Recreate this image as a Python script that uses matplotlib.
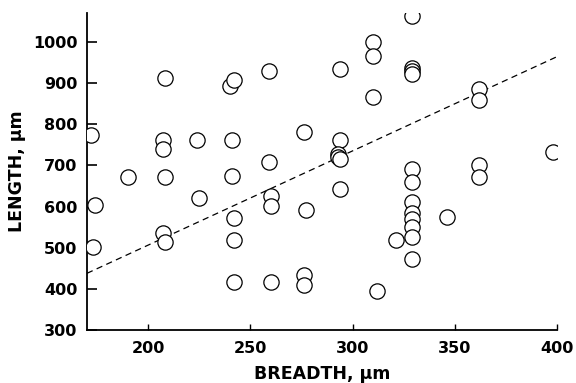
import numpy as np
import matplotlib.pyplot as plt

plt.rcParams['font.family'] = ['DejaVu Sans']

# breadth (um) and length (um)
breadth = [172, 174, 173, 190, 208, 207, 207, 208, 207, 208,
           224, 225, 240, 242, 241, 241, 242, 242, 242,
           259, 259, 260, 260, 260, 276, 277, 276, 276,
           294, 294, 293, 293, 294, 294, 310, 310, 310, 312, 321,
           329, 329, 329, 329, 329, 329, 329, 329, 329, 329, 329, 329,
           346, 362, 362, 362, 362, 398]
length = [775, 605, 502, 672, 912, 762, 740, 672, 537, 513,
          762, 622, 893, 908, 762, 675, 573, 520, 418,
          930, 708, 625, 602, 417, 780, 591, 435, 410,
          935, 762, 728, 720, 715, 642, 1000, 965, 866, 395, 520,
          1062, 937, 930, 922, 692, 660, 610, 585, 570, 550, 525, 472,
          574, 885, 858, 700, 673, 732]

# regression line end points
fit_x = [170, 400]
fit_y = [438, 964]

fig = plt.figure(figsize=(5.76, 3.83), dpi=100)
ax = fig.add_axes([0.151, 0.138, 0.816, 0.828])

ax.plot(breadth, length, 'o', mfc='white', mec='black', ms=11, mew=0.9, zorder=3)
ax.plot(fit_x, fit_y, '--', color='black', lw=0.9, dashes=(5, 3.5), zorder=2)

ax.set_xlim(170, 400)
ax.set_ylim(300, 1070)
ax.set_xticks([200, 250, 300, 350, 400])
ax.set_yticks([300, 400, 500, 600, 700, 800, 900, 1000])

for s in ['top', 'right']:
    ax.spines[s].set_visible(False)
for s in ['left', 'bottom']:
    ax.spines[s].set_linewidth(1.3)

ax.tick_params(axis='y', direction='in', length=7, width=1.2, pad=7, labelsize=11.5)
ax.tick_params(axis='x', direction='in', length=4, width=1.0, pad=8, labelsize=11.5)
for lab in ax.get_xticklabels() + ax.get_yticklabels():
    lab.set_fontweight('bold')

ax.set_xlabel('BREADTH, μm', fontsize=12.5, fontweight='bold', labelpad=6)
ax.set_ylabel('LENGTH, μm', fontsize=12.5, fontweight='bold', labelpad=5)

fig.savefig('out.png', dpi=100)
